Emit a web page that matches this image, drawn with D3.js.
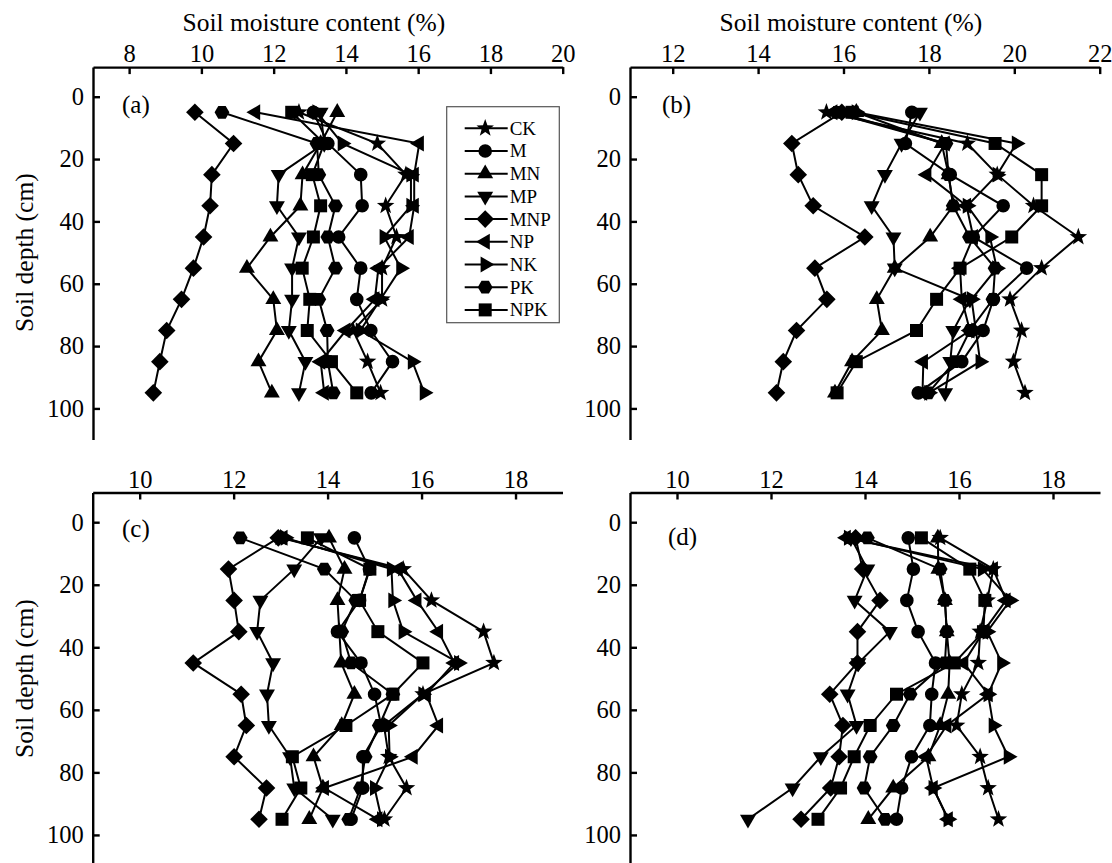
<!DOCTYPE html>
<html>
<head>
<meta charset="utf-8">
<script src="https://cdn.jsdelivr.net/npm/d3@7"></script>
<style>
  html, body { margin: 0; padding: 0; background: #fff; }
  svg { display: block; font-family: "Liberation Serif", "Times New Roman", serif; }
  .axis path, .axis line { stroke: #000; stroke-width: 2.4; }
  .axis text { font-size: 24.5px; fill: #000; font-family: "Liberation Serif", "Times New Roman", serif; }
  .series { fill: none; stroke: #000; stroke-width: 2; }
  .mark { fill: #000; stroke: none; }
</style>
</head>
<body>
<div id="chart"></div>
<script>
// depth of each sample (cm)
const depths = [5, 15, 25, 35, 45, 55, 65, 75, 85, 95];
const seriesNames = ["CK", "M", "MN", "MP", "MNP", "NP", "NK", "PK", "NPK"];
const depthTicks = [0, 20, 40, 60, 80, 100];

// soil moisture (%) per treatment, rows follow seriesNames
const moistA = [
  [12.7, 14.87, 15.66, 15.1, 15.4, 15.0, 15.0, 14.2, 14.6, 14.96],
  [13.1, 13.5, 14.41, 14.45, 13.8, 14.41, 14.3, 14.69, 15.29, 14.7],
  [13.76, 13.3, 12.8, 12.74, 11.91, 11.26, 11.99, 12.09, 11.58, 11.95],
  [13.3, 13.4, 12.14, 12.09, 12.7, 12.51, 12.51, 12.42, 12.88, 12.7],
  [9.82, 10.89, 10.29, 10.24, 10.06, 9.78, 9.45, 9.04, 8.85, 8.67],
  [11.5, 16.03, 15.89, 15.89, 15.75, 14.9, 14.8, 14.0, 13.3, 13.4],
  [13.2, 13.9, 15.8, 15.8, 15.06, 15.52, 14.96, 14.4, 15.84, 16.17],
  [10.57, 13.2, 13.25, 13.71, 13.5, 13.71, 13.25, 13.48, 13.5, 13.65],
  [12.5, 13.4, 13.07, 13.3, 13.1, 12.79, 13.0, 12.93, 13.6, 14.3]
];
const moistB = [
  [15.6, 18.9, 19.6, 20.45, 21.5, 20.64, 19.9, 20.17, 19.98, 20.25],
  [17.6, 17.45, 18.5, 19.74, 19.04, 20.29, 19.51, 19.27, 18.77, 17.75],
  [16.3, 18.3, 18.46, 18.57, 18.03, 17.2, 16.78, 16.9, 16.2, 15.8],
  [17.79, 17.36, 16.97, 16.66, 17.17, 17.2, 18.96, 18.57, 18.5, 18.38],
  [15.96, 14.79, 14.94, 15.29, 16.5, 15.33, 15.61, 14.9, 14.59, 14.43],
  [15.75, 18.38, 17.95, 18.88, 19.04, 18.73, 18.77, 18.96, 17.87, 17.85],
  [16.3, 20.05, 19.6, 18.9, 19.43, 19.59, 19.0, 19.1, 19.2, 18.0],
  [15.85, 18.4, 18.46, 18.57, 18.95, 19.55, 19.5, 18.96, 18.6, 17.99],
  [16.2, 19.55, 20.64, 20.64, 19.94, 18.73, 18.18, 17.71, 16.3, 15.85]
];
const moistC = [
  [13.0, 15.61, 16.21, 17.32, 17.54, 16.03, 15.2, 15.3, 15.68, 15.21],
  [14.57, 14.89, 14.68, 14.21, 14.71, 15.0, 15.14, 14.75, 14.75, 14.5],
  [14.03, 14.36, 14.21, 14.25, 14.29, 14.57, 14.3, 13.7, 13.9, 13.61],
  [13.86, 13.29, 12.57, 12.5, 12.84, 12.71, 12.75, 13.2, 13.29, 14.11],
  [12.95, 11.89, 12.01, 12.11, 11.14, 12.16, 12.27, 12.01, 12.7, 12.54],
  [13.05, 15.5, 15.9, 16.36, 16.7, 16.1, 16.36, 15.82, 13.93, 15.07],
  [13.1, 15.36, 15.39, 15.61, 16.79, 16.03, 15.3, 15.32, 15.0, 15.15],
  [12.14, 13.93, 14.6, 14.3, 14.5, 15.39, 15.1, 14.8, 14.7, 14.45],
  [13.57, 14.9, 14.68, 15.07, 16.03, 15.39, 14.39, 13.25, 13.43, 13.03]
];
const moistD = [
  [15.6, 16.73, 16.6, 16.45, 16.41, 16.06, 15.95, 16.45, 16.62, 16.84],
  [14.92, 15.03, 14.89, 15.13, 15.5, 15.42, 15.38, 14.99, 14.78, 14.67],
  [15.55, 15.56, 15.7, 15.74, 15.8, 15.77, 15.6, 15.35, 14.6, 14.07],
  [13.7, 14.05, 13.78, 14.53, 13.86, 13.63, 13.82, 13.06, 12.46, 11.51],
  [13.8, 13.95, 14.32, 13.84, 13.84, 13.25, 13.53, 13.45, 13.27, 12.64],
  [13.6, 16.73, 17.0, 16.52, 16.1, 16.62, 15.74, 15.3, 15.45, 15.77],
  [13.65, 16.5, 17.09, 16.6, 16.91, 16.62, 16.73, 17.05, 15.45, 15.77],
  [14.05, 15.6, 15.7, 15.74, 15.7, 14.96, 14.6, 14.11, 13.98, 14.43],
  [15.2, 16.23, 16.55, 16.52, 15.9, 14.67, 14.11, 13.77, 13.48, 13.0]
];

const ticksA = [8, 10, 12, 14, 16, 18, 20];
const ticksB = [12, 14, 16, 18, 20, 22];
const ticksCD = [10, 12, 14, 16, 18];

// marker shape per series, same order as seriesNames
const shapes = ["star", "circle", "up", "down", "diamond", "left", "right", "hex", "square"];

function polygon(pts) {
  return "M" + pts.map(p => p[0].toFixed(2) + "," + p[1].toFixed(2)).join("L") + "Z";
}
function tri(r, angle) {
  return polygon(d3.range(3).map(i => {
    const a = angle + i * 2 * Math.PI / 3;
    return [r * Math.cos(a), r * Math.sin(a)];
  }));
}
function shapePath(kind) {
  switch (kind) {
    case "star":
      return polygon(d3.range(10).map(i => {
        const r = i % 2 ? 3.8 : 9.2;
        const a = -Math.PI / 2 + i * Math.PI / 5;
        return [r * Math.cos(a), r * Math.sin(a)];
      }));
    case "circle":
      return d3.arc()({ innerRadius: 0, outerRadius: 6.8, startAngle: 0, endAngle: 2 * Math.PI });
    case "up": return tri(9.2, -Math.PI / 2);
    case "down": return tri(9.2, Math.PI / 2);
    case "left": return tri(9.2, Math.PI);
    case "right": return tri(9.2, 0);
    case "diamond": return polygon([[0, -8.8], [8.8, 0], [0, 8.8], [-8.8, 0]]);
    case "hex":
      return polygon(d3.range(6).map(i => [7.4 * Math.cos(i * Math.PI / 3), 7.4 * Math.sin(i * Math.PI / 3)]));
    case "square": return polygon([[-6.5, -6.5], [6.5, -6.5], [6.5, 6.5], [-6.5, 6.5]]);
  }
}

const svg = d3.select("#chart").append("svg")
  .attr("width", 1112).attr("height", 863);

// panel frames (pixel boxes)
const panels = [
  { label: "(a)", values: moistA, xDomain: [7, 20], xRange: [93, 562.7], ticks: ticksA,
    yRange: [67.1, 439.6], labelPos: [122, 113], title: true, depthLabel: true },
  { label: "(b)", values: moistB, xDomain: [11, 22], xRange: [630, 1099.7], ticks: ticksB,
    yRange: [67.1, 439.6], labelPos: [662, 113], title: true, depthLabel: false },
  { label: "(c)", values: moistC, xDomain: [9, 19], xRange: [92.7, 562.5], ticks: ticksCD,
    yRange: [492.5, 866.2], labelPos: [122, 537], title: false, depthLabel: true },
  { label: "(d)", values: moistD, xDomain: [9, 19], xRange: [630, 1100], ticks: ticksCD,
    yRange: [492.5, 866.2], labelPos: [668, 545], title: false, depthLabel: false }
];

panels.forEach(p => {
  const x = d3.scaleLinear().domain(p.xDomain).range(p.xRange);
  const y = d3.scaleLinear().domain([-9.5, 110]).range(p.yRange);
  const g = svg.append("g");

  g.append("g").attr("class", "axis")
    .attr("transform", `translate(0,${p.yRange[0]})`)
    .call(d3.axisTop(x).tickValues(p.ticks).tickSizeInner(-7).tickSizeOuter(0).tickPadding(5));

  g.append("g").attr("class", "axis")
    .attr("transform", `translate(${p.xRange[0]},0)`)
    .call(d3.axisLeft(y).tickValues(depthTicks).tickSizeInner(-7).tickSizeOuter(0).tickPadding(9));

  if (p.title) {
    g.append("text")
      .attr("x", (p.xRange[0] + p.xRange[1]) / 2 - 14).attr("y", 31)
      .attr("text-anchor", "middle").attr("font-size", 25.5)
      .text("Soil moisture content (%)");
  }
  if (p.depthLabel) {
    g.append("text")
      .attr("transform", `translate(33,${y(50)}) rotate(-90)`)
      .attr("text-anchor", "middle").attr("font-size", 25.5)
      .text("Soil depth (cm)");
  }
  g.append("text").attr("x", p.labelPos[0]).attr("y", p.labelPos[1])
    .attr("font-size", 25).text(p.label);

  const line = d3.line().x(d => x(d[0])).y(d => y(d[1]));
  const rows = p.values.map((vals, si) => ({
    shape: shapes[si],
    pts: vals.map((v, i) => [v, depths[i]])
  }));

  g.selectAll(".series").data(rows).join("path")
    .attr("class", "series")
    .attr("d", r => line(r.pts));

  rows.forEach(r => {
    g.selectAll(null).data(r.pts).join("path")
      .attr("class", "mark")
      .attr("transform", d => `translate(${x(d[0])},${y(d[1])})`)
      .attr("d", shapePath(r.shape));
  });
});

// legend inside panel (a)
const leg = svg.append("g").attr("transform", "translate(446.7,106.7)");
leg.append("rect").attr("width", 112.6).attr("height", 216)
  .attr("fill", "#fff").attr("stroke", "#555").attr("stroke-width", 1.2);
seriesNames.forEach((name, i) => {
  const cy = 21.6 + i * 22.7;
  leg.append("line").attr("x1", 18).attr("x2", 61).attr("y1", cy).attr("y2", cy)
    .attr("stroke", "#000").attr("stroke-width", 2);
  leg.append("path").attr("class", "mark")
    .attr("transform", `translate(38.5,${cy})`).attr("d", shapePath(shapes[i]));
  leg.append("text").attr("x", 63).attr("y", cy + 6.5)
    .attr("font-size", 19).text(name);
});
</script>
</body>
</html>
